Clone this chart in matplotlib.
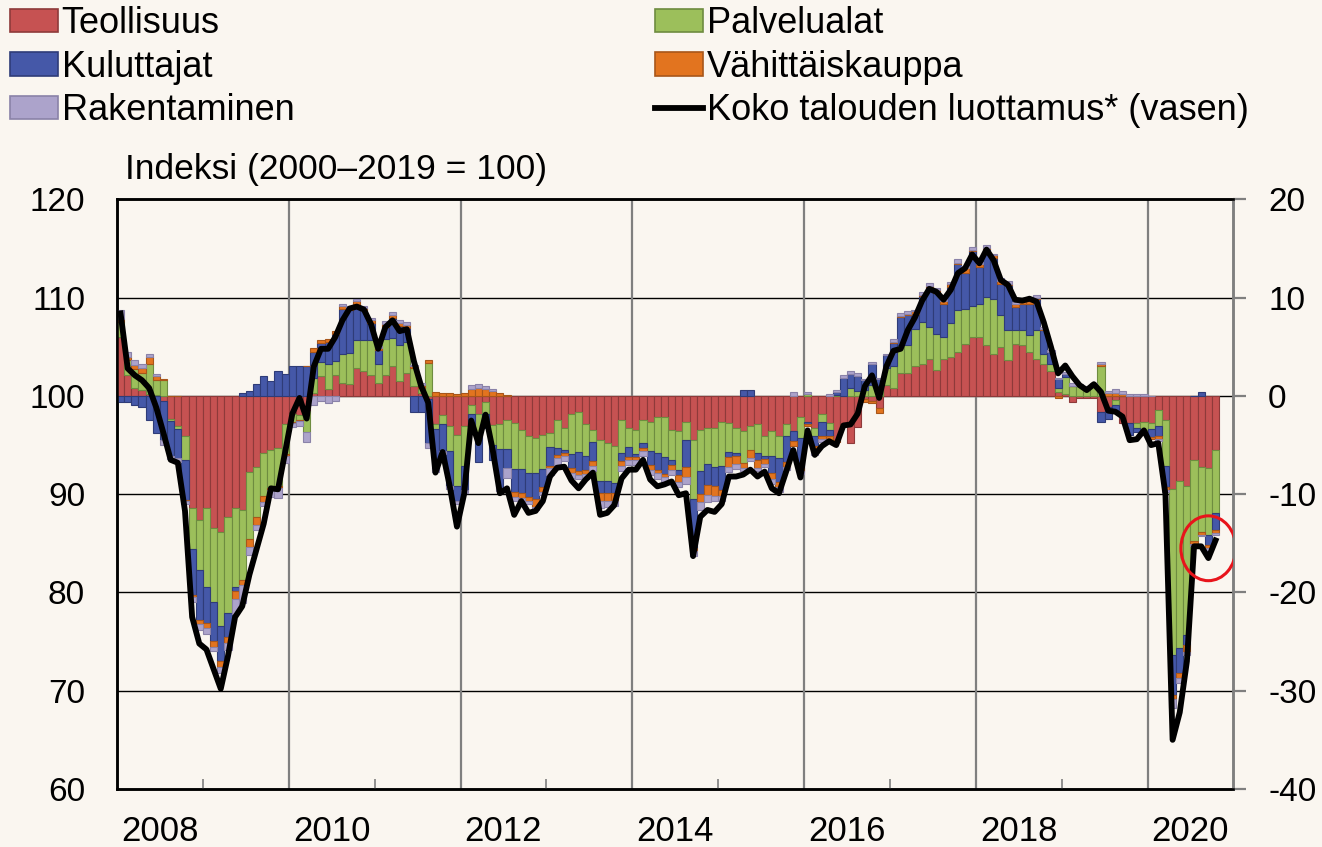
import numpy as np
import matplotlib
matplotlib.use("Agg")
import matplotlib.pyplot as plt
from matplotlib.patches import Patch, Ellipse
from matplotlib.lines import Line2D

plt.rcParams['font.family'] = ['Liberation Sans', 'DejaVu Sans']

# Monthly data, Jan 2008 - Oct 2020
start_year = 2008

teollisuus = [
    6.0, 2.1, 0.8, 0.6, 0.2, 0.1, -0.5, -2.3, -3.1, -4.1, -11.4, -12.6,
    -11.4, -13.4, -13.8, -12.3, -11.4, -11.6, -7.7, -7.2, -5.8, -5.5, -5.3, -2.9,
    -1.8, -1.9, -1.5, 0.3, 2.0, 0.7, 2.1, 1.3, 1.2, 2.8, 2.5, 2.1,
    1.3, 2.1, 3.0, 1.5, 2.3, 1.0, 0.3, -0.3, -2.9, -1.9, -3.1, -4.0,
    -3.1, -0.9, -1.8, -0.6, -3.0, -2.9, -2.4, -2.8, -3.5, -4.1, -4.3, -4.0,
    -3.8, -2.4, -3.3, -1.8, -1.6, -2.9, -3.5, -4.5, -4.8, -5.1, -2.4, -3.3,
    -3.5, -2.4, -2.6, -2.1, -2.1, -3.5, -3.6, -2.6, -4.5, -3.5, -3.3, -3.3,
    -2.6, -2.8, -3.3, -3.6, -3.1, -2.9, -4.1, -3.6, -4.1, -2.9, -3.6, -2.1,
    -2.6, -3.3, -1.8, -2.8, -4.5, -3.0, -4.8, -3.2, -0.3, -0.5, -1.2, 1.1,
    0.8, 2.3, 2.3, 3.1, 3.3, 3.8, 2.6, 3.8, 4.0, 4.5, 5.3, 6.0,
    6.0, 5.2, 4.3, 5.0, 3.7, 5.3, 5.2, 4.5, 3.8, 3.3, 2.5, 0.4,
    0.2, -0.6, -0.2, -0.2, -0.2, -1.6, -1.1, -0.4, -2.8, -2.8, -2.8, -2.6,
    -2.8, -1.4, -2.4, -9.5, -8.7, -9.2, -6.5, -7.2, -7.3, -5.5,
]
palvelualat = [
    1.5, 1.6, 1.9, 1.7, 3.1, 1.5, 1.6, -0.2, -0.3, -2.4, -4.2, -5.1,
    -8.0, -7.6, -9.6, -9.8, -8.0, -7.1, -6.9, -5.1, -4.4, -3.9, -3.9, -3.0,
    -0.8, -0.5, -2.2, 1.5, 1.5, 2.6, 1.5, 3.0, 3.2, 2.9, 3.2, 3.6,
    2.0, 3.7, 2.9, 3.7, 3.2, 1.8, 0.5, 3.4, -0.5, -1.0, -2.5, -5.2,
    -4.0, -0.9, -2.0, -1.2, -2.0, -2.5, -3.0, -4.6, -3.9, -3.7, -3.5, -3.4,
    -1.4, -2.9, -2.2, -4.1, -4.1, -3.2, -1.2, -4.2, -3.9, -3.8, -3.4, -1.9,
    -2.4, -2.4, -3.0, -3.7, -4.1, -3.0, -3.9, -1.9, -6.0, -4.1, -3.6, -3.9,
    -4.5, -2.9, -2.5, -3.2, -2.4, -2.9, -2.0, -2.5, -2.2, -1.2, 0.0, -2.2,
    0.2, -0.8, -0.8, -0.7, 0.1, 0.0, 0.8, 0.5, 0.6, 1.1, 0.9, 1.7,
    2.2, 2.9, 2.9, 3.7, 4.2, 3.2, 3.7, 2.2, 3.4, 4.2, 3.6, 3.2,
    3.4, 4.9, 5.6, 3.2, 3.0, 1.4, 1.5, 1.7, 2.9, 1.0, 0.8, 0.4,
    1.7, 1.0, 1.0, 0.8, 1.0, 3.1, 0.0, -0.5, 0.0, 0.0, -0.5, -0.9,
    -0.6, -1.7, -4.7, -16.9, -17.0, -15.1, -8.3, -6.6, -6.9, -6.4,
]
kuluttajat = [
    -0.6, -0.6, -0.9, -1.1, -2.4, -3.8, -4.0, -3.6, -2.9, -4.1, -4.7, -5.1,
    -3.7, -3.9, -3.6, -2.4, -0.5, 0.3, 0.5, 1.2, 2.0, 1.5, 2.5, 2.2,
    3.1, 3.0, 3.0, 2.7, 1.9, 2.2, 2.7, 4.6, 4.3, 3.6, 3.0, 1.7,
    1.4, 1.2, 2.0, 1.9, 1.4, -1.6, -1.6, -4.5, -4.0, -2.7, -3.6, -1.5,
    -2.5, -1.7, -2.9, -1.5, -1.5, -4.0, -1.9, -2.4, -2.5, -2.5, -2.7, -1.9,
    -1.9, -0.7, -0.3, -1.4, -1.9, -1.4, -1.9, -1.2, -1.2, -1.0, -0.8, -1.0,
    -0.3, -0.5, -1.4, -1.7, -1.7, -0.5, -0.5, -2.7, -5.0, -2.4, -2.2, -2.0,
    -2.5, -0.5, -0.3, 0.6, 0.6, -0.7, -0.3, -1.7, -2.5, -2.6, -1.0, -3.0,
    -0.3, -1.0, -1.5, -0.6, 0.3, 1.8, 1.4, 1.5, 1.0, 2.2, 0.8, 1.4,
    2.4, 2.8, 3.0, 1.5, 2.7, 4.1, 4.2, 3.4, 3.7, 4.7, 3.6, 5.6,
    3.7, 4.9, 4.1, 3.2, 4.6, 2.4, 2.7, 3.2, 3.2, 2.4, 1.2, 0.9,
    0.3, 0.0, 0.0, 0.0, 0.0, -1.0, -1.2, -0.5, 0.0, -1.2, -0.4, 0.0,
    -0.8, -1.0, -2.2, -4.0, -2.5, -1.0, 0.0, 0.4, -1.0, -1.7,
]
vahittaiskauppa = [
    0.3, 0.3, 0.5, 0.5, 0.7, 0.4, 0.1, 0.0, 0.0, -0.1, -0.2, -0.4,
    -0.5, -0.6, -0.6, -0.6, -0.8, -0.5, -0.8, -0.8, -0.6, -0.2, -0.2, -0.2,
    -0.1, -0.1, 0.0, 0.4, 0.3, 0.3, 0.3, 0.3, 0.3, 0.4, 0.3, 0.3,
    0.2, 0.3, 0.3, 0.3, 0.3, 0.2, 0.3, 0.3, 0.4, 0.3, 0.3, 0.2,
    0.3, 0.7, 0.8, 0.7, 0.5, 0.3, 0.1, -0.5, -0.5, -0.4, -0.8, -0.5,
    -0.2, -0.3, -0.3, -0.5, -0.4, -0.4, -0.5, -0.8, -0.8, -0.8, -0.5, -0.3,
    -0.3, -0.3, -0.5, -0.3, -0.3, -0.5, -0.8, -1.0, -0.3, -0.8, -1.0, -1.0,
    -0.6, -1.0, -0.8, -0.5, -0.8, -0.8, -0.5, -0.7, -0.5, -0.5, -0.5, -0.3,
    -0.2, -0.6, -0.3, -0.4, -0.2, -0.1, 0.0, 0.0, -0.3, -0.2, -0.5, 0.0,
    0.1, 0.1, 0.1, 0.3, 0.1, 0.1, 0.3, 0.3, 0.3, 0.1, 0.5, 0.1,
    0.3, 0.1, 0.3, 0.3, 0.1, 0.3, 0.3, 0.3, 0.1, 0.1, 0.0, -0.2,
    0.0, 0.0, 0.0, 0.0, 0.0, 0.2, 0.3, 0.3, 0.2, 0.0, 0.0, 0.0,
    -0.2, -0.3, -0.3, -0.4, -0.5, -0.8, -0.3, -0.3, -0.3, -0.3,
]
rakentaminen = [
    1.0, 0.5, 0.5, 0.5, 0.3, 0.2, -0.5, -0.3, -0.4, -0.3, -0.5, -0.6,
    -0.6, -0.5, -0.6, -0.8, -1.5, -1.9, -0.8, -0.5, -0.4, -0.7, -1.0, -0.7,
    -0.5, -0.6, -1.0, -0.9, -0.5, -0.7, -0.5, 0.2, 0.2, 0.2, 0.2, 0.2,
    0.2, 0.3, 0.3, 0.3, 0.3, 0.2, 0.2, -0.5, -0.3, -0.3, -0.3, -0.3,
    -0.3, 0.4, 0.4, 0.3, 0.2, -0.3, -1.0, -0.4, -0.3, -0.3, -0.3, -0.3,
    -0.7, -0.7, -0.5, -0.5, -0.5, -0.5, -0.5, -0.7, -0.6, -0.5, -0.5, -0.5,
    -0.5, -0.5, -0.5, -0.6, -0.6, -0.5, -0.5, -0.8, -0.5, -0.8, -0.7, -0.5,
    -0.5, -0.5, -0.5, -0.3, -0.3, -0.3, -0.3, -0.5, -0.5, -0.3, 0.4, -0.3,
    0.2, -0.3, -0.3, 0.2, 0.2, 0.3, 0.3, 0.3, 0.1, 0.2, 0.1, 0.1,
    0.3, 0.3, 0.3, 0.2, 0.3, 0.3, 0.2, 0.2, 0.2, 0.4, 0.2, 0.3,
    0.2, 0.3, 0.2, 0.3, 0.3, 0.2, 0.2, 0.2, 0.3, 0.2, 0.2, 0.1,
    0.2, 0.3, 0.2, 0.2, 0.3, 0.2, 0.2, 0.4, 0.3, 0.2, 0.2, 0.2,
    0.0, -0.2, -0.2, -1.0, -0.5, -0.3, -0.2, -0.2, -0.3, -0.2,
]
luottamus = [
    108.4, 102.8, 102.1, 101.6, 100.8, 98.8, 96.2, 93.5, 93.2, 88.3, 77.5, 74.8,
    74.2, 72.2, 70.2, 73.5, 77.5, 78.6, 81.8, 84.4, 87.0, 90.6, 90.5, 94.3,
    98.2, 99.8, 97.7, 103.0, 104.8, 104.8, 106.0, 107.7, 108.9, 109.1, 108.8, 107.3,
    104.8, 107.0, 107.7, 106.6, 106.8, 103.5, 101.0, 99.3, 92.2, 94.3, 90.8, 86.7,
    90.0, 97.5, 95.2, 98.1, 94.5, 90.1, 90.6, 87.9, 89.3, 88.1, 88.3, 89.3,
    91.8, 92.7, 92.8, 91.4, 90.6, 91.5, 92.2, 87.9, 88.1, 88.9, 91.6, 92.5,
    92.5, 93.5, 91.5, 90.8, 91.0, 91.3, 89.9, 90.1, 83.7, 87.7, 88.4, 88.2,
    89.0, 91.8, 91.8, 92.0, 92.5, 91.8, 92.3, 90.6, 90.1, 92.3, 94.5, 91.7,
    96.5, 94.0, 94.9, 95.4, 95.0, 97.0, 97.1, 98.2, 101.0, 102.1, 99.8, 103.0,
    104.6, 104.8, 106.7, 108.0, 109.7, 110.9, 110.6, 109.8, 110.8, 112.5, 113.0, 114.4,
    113.5, 114.9, 113.8, 111.8, 111.3, 109.8, 109.7, 109.9, 109.6, 107.5, 105.0, 102.3,
    103.1, 102.0, 101.1, 100.6, 101.2, 100.4, 98.5, 98.4, 97.9, 95.5, 95.6, 96.5,
    95.0, 95.2, 90.0, 65.0, 67.8, 73.0, 84.7, 84.7, 83.5, 85.3,
]

series_names = ["Teollisuus", "Palvelualat", "Kuluttajat", "Vähittäiskauppa", "Rakentaminen"]
line_name = "Koko talouden luottamus* (vasen)"
year_labels = [2008, 2010, 2012, 2014, 2016, 2018, 2020]

colors = ["#C65252", "#9CBF5B", "#4558A8", "#E2741F", "#ACA3CB"]
edges = ["#8E3A3A", "#6E8C40", "#2F3C78", "#A8561A", "#8A82A8"]
bg = "#FAF6F0"

series = [teollisuus, palvelualat, kuluttajat, vahittaiskauppa, rakentaminen]
n = len(luottamus)
x = start_year + (np.arange(n) + 0.5) / 12

fig = plt.figure(figsize=(13.22, 8.47), dpi=100, facecolor=bg)
ax = fig.add_axes([0.0885, 0.0685, 0.8445, 0.696])
ax2 = ax.twinx()
ax.set_zorder(3)
ax.patch.set_visible(False)
ax2.set_zorder(1)
ax2.patch.set_visible(True)
ax2.patch.set_facecolor(bg)

# stacked bars, positive and negative stacked separately (right axis)
pos = np.zeros(n)
neg = np.zeros(n)
for vals, c, ec, name in zip(series, colors, edges, series_names):
    v = np.array(vals)
    bottom = np.where(v >= 0, pos, neg)
    ax2.bar(x, v, bottom=bottom, width=1 / 12, color=c, edgecolor=ec,
            linewidth=0.8, zorder=3, label=name)
    pos = pos + np.where(v >= 0, v, 0)
    neg = neg + np.where(v < 0, v, 0)

ax2.set_ylim(-40, 20)
ax2.set_yticks(range(-40, 21, 10))
ax2.set_yticklabels(["%d" % t for t in range(-40, 21, 10)])
for t in range(-30, 11, 10):
    ax2.axhline(t, color="black", lw=1.0, zorder=1)
for yr in year_labels[1:]:
    ax2.axvline(yr, color="#7F7F7F", lw=1.6, zorder=1)

# total confidence line (left axis)
ax.plot(x, luottamus, color="black", lw=4.2, solid_joinstyle="round", zorder=5)
ax.set_ylim(60, 120)
ax.set_yticks(range(60, 121, 10))
ax.set_xlim(start_year, start_year + 13)

# red ring around the latest months
last = slice(n - 3, n)
ax.add_patch(Ellipse((x[last].mean(), np.mean(luottamus[last])), 0.64, 6.6,
                     facecolor="none", edgecolor="#E8141B", lw=2.2, zorder=6))

# x ticks: inward marks on odd years, labels centred on even years
ax.set_xticks([y + 1 for y in year_labels[:-1]])
ax.set_xticklabels([])
ax.tick_params(axis="x", which="major", direction="in", length=7, width=1.2,
               color="#7F7F7F")
ax.set_xticks([y + 0.5 for y in year_labels], minor=True)
ax.set_xticklabels([str(y) for y in year_labels], minor=True)
ax.tick_params(axis="x", which="minor", length=0, pad=19, labelsize=25)
ax.tick_params(axis="y", length=0, pad=23, labelsize=24)
ax2.tick_params(axis="y", direction="out", length=9, width=1.6, color="#7F7F7F",
                pad=16, labelsize=24)

for a in (ax, ax2):
    a.spines["left"].set_color("black")
    a.spines["left"].set_linewidth(1.8)
    a.spines["bottom"].set_linewidth(1.8)
    a.spines["top"].set_linewidth(1.8)
    a.spines["right"].set_color("#7F7F7F")
    a.spines["right"].set_linewidth(1.8)

fig.text(125 / 1322, 1 - 170 / 847, "Indeksi (2000–2019 = 100)", fontsize=25.5,
         va="center", ha="left")

# legend in two columns
handles = [Patch(facecolor=c, edgecolor=ec, linewidth=1.2) for c, ec in zip(colors, edges)]
line_handle = Line2D([], [], color="black", lw=4.2)
leg_kw = dict(frameon=False, fontsize=26, handlelength=1.33, handleheight=0.62,
              handletextpad=0.1, labelspacing=0.24, borderpad=0, borderaxespad=0,
              loc="upper left")
leg1 = fig.legend([handles[0], handles[2], handles[4]],
                  [series_names[0], series_names[2], series_names[4]],
                  bbox_to_anchor=(0.0075, 0.993), **leg_kw)
leg2 = fig.legend([handles[1], handles[3], line_handle],
                  [series_names[1], series_names[3], line_name],
                  bbox_to_anchor=(0.4955, 0.993), **leg_kw)

fig.savefig("out.png", dpi=100, facecolor=bg)
